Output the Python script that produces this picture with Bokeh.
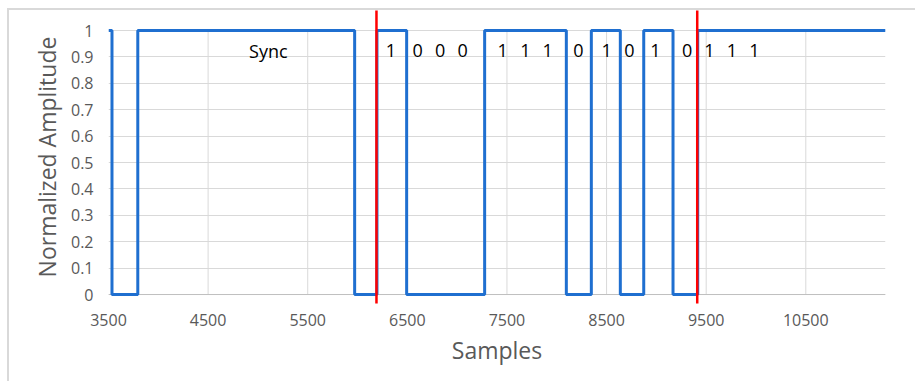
from bokeh.plotting import figure
from bokeh.models import Range1d, FixedTicker, ColumnDataSource
from bokeh.core.properties import value
from bokeh.embed import file_html
from bokeh.resources import INLINE

# ---- data ----
edge_samples = [3500, 3535, 3794, 5971, 6195, 6493, 7276, 8096, 8347, 8638, 8873, 9167, 9415, 11300]
levels = [1, 0, 1, 0, 1, 0, 1, 0, 1, 0, 1, 0, 1, 1]
marker_samples = [6190, 9410]
marker_y = [-0.1, 1.1]
label_text = ["Sync", "1", "0", "0", "0", "1", "1", "1", "0", "1", "0", "1", "0", "1", "1", "1"]
label_x = [5105, 6335, 6603, 6830, 7055, 7457, 7684, 7909, 8216, 8501, 8728, 8990, 9308, 9532, 9757, 9984]
label_y = [0.924] * 16
x_ticks = [3500, 4500, 5500, 6500, 7500, 8500, 9500, 10500]
y_ticks = [0, 0.1, 0.2, 0.3, 0.4, 0.5, 0.6, 0.7, 0.8, 0.9, 1]
y_tick_labels = {0: "0", 0.1: "0.1", 0.2: "0.2", 0.3: "0.3", 0.4: "0.4", 0.5: "0.5",
                 0.6: "0.6", 0.7: "0.7", 0.8: "0.8", 0.9: "0.9", 1: "1"}
x_min, x_max = 3500, 11300

FONT = "Open Sans"
GRAY = "#595959"
GRID = "#d9d9d9"

p = figure(width=908, height=373, output_backend="svg", toolbar_location=None,
           x_range=Range1d(x_min, x_max), y_range=Range1d(-0.034, 1.076),
           min_border_left=99, min_border_right=32, min_border_top=0, min_border_bottom=80,
           x_axis_label="Samples", y_axis_label="Normalized Amplitude")
p.styles = {"margin-left": "7px", "margin-top": "8px",
            "border-left": "2px solid #d9d9d9", "border-top": "2px solid #d9d9d9"}
p.outline_line_color = None
p.background_fill_color = "white"
p.border_fill_color = "white"

# grids
p.xgrid.visible = False
p.ygrid.ticker = FixedTicker(ticks=y_ticks)
p.ygrid.grid_line_color = GRID
p.ygrid.grid_line_width = 1
grid_x = x_ticks[1:]
p.segment(x0=grid_x, y0=[0] * len(grid_x), x1=grid_x, y1=[1] * len(grid_x),
          line_color=GRID, line_width=1)
p.segment(x0=[x_min], y0=[0], x1=[x_max], y1=[0], line_color="#bfbfbf", line_width=1)

# axes
for ax in (p.xaxis[0], p.yaxis[0]):
    ax.axis_line_color = None
    ax.major_tick_line_color = None
    ax.minor_tick_line_color = None
    ax.major_tick_out = 0
    ax.major_tick_in = 0
    ax.major_label_text_font = FONT
    ax.major_label_text_font_size = "16px"
    ax.major_label_text_color = GRAY
    ax.axis_label_text_font = FONT
    ax.axis_label_text_font_size = "23px"
    ax.axis_label_text_color = GRAY
    ax.axis_label_text_font_style = "normal"

p.xaxis.ticker = FixedTicker(ticks=x_ticks)
p.xaxis.major_label_standoff = 10
p.xaxis.axis_label_standoff = 5
p.yaxis.ticker = FixedTicker(ticks=y_ticks)
p.yaxis.major_label_overrides = y_tick_labels
p.yaxis.major_label_standoff = 15
p.yaxis.axis_label_standoff = 5

# waveform
p.step(x=edge_samples, y=levels, mode="after", line_color="#1f6fd0", line_width=3)

# markers
for xs in marker_samples:
    p.line(x=[xs, xs], y=marker_y, line_color="#ff0000", line_width=2.5)

# labels
src = ColumnDataSource(dict(x=label_x, y=label_y, t=label_text))
p.text(x="x", y="y", text="t", source=src, text_font=value(FONT), text_font_size="18px",
       text_color="#000000", text_align="center", text_baseline="middle")

open("out.html", "w").write(file_html(p, INLINE))
